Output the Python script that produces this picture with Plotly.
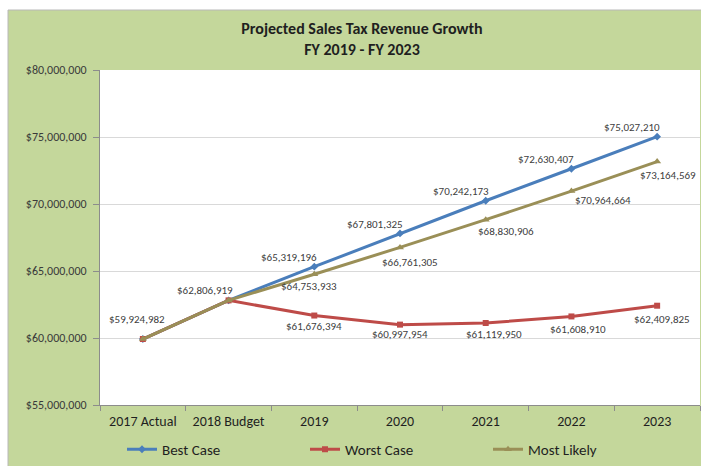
import plotly.graph_objects as go

# Fiscal-year categories and projected sales tax revenue per scenario
categories = ["2017 Actual", "2018 Budget", "2019", "2020", "2021", "2022", "2023"]
best_case = [59924982, 62806919, 65319196, 67801325, 70242173, 72630407, 75027210]
worst_case = [59924982, 62806919, 61676394, 60997954, 61119950, 61608910, 62409825]
most_likely = [59924982, 62806919, 64753933, 66761305, 68830906, 70964664, 73164569]
y_ticks = [55000000, 60000000, 65000000, 70000000, 75000000, 80000000]

FONT = "Carlito, 'Liberation Sans Narrow', Arial, sans-serif"
GREEN = "#C4D79B"
LABEL_COLOR = "#404040"

fig = go.Figure()

series = [
    ("Best Case", best_case, "#4A7EBB", "diamond", 6),
    ("Worst Case", worst_case, "#BE4B48", "square", 6),
    ("Most Likely", most_likely, "#9A8F57", "triangle-up", 7),
]
for name, vals, color, symbol, msize in series:
    fig.add_trace(go.Scatter(
        x=categories, y=vals, name=name, mode="lines+markers",
        line=dict(color=color, width=3),
        marker=dict(symbol=symbol, size=msize, color=color),
        hoverinfo="skip",
    ))

def money(v):
    return f"${v:,}"

# annotations are placed by category index so year names are not read as numbers
annotations = []
# shared starting points: a single label each
annotations.append(dict(x=0, y=best_case[0], text=money(best_case[0]),
                        xshift=-6, yshift=20))
annotations.append(dict(x=1, y=best_case[1], text=money(best_case[1]),
                        xshift=-24, yshift=10))
# best case labels above-left
for i in range(2, 7):
    annotations.append(dict(x=i, y=best_case[i], text=money(best_case[i]),
                            xshift=-25, yshift=9))
# most likely labels below-right
ml_shift = [(0, 0), (0, 0), (-5, -12), (10, -15), (20, -12), (32, -9), (11, -14)]
for i in range(2, 7):
    dx, dy = ml_shift[i]
    annotations.append(dict(x=i, y=most_likely[i], text=money(most_likely[i]),
                            xshift=dx, yshift=dy))
# worst case labels below
wc_shift = [(0, 0), (0, 0), (0, -11), (0, -10), (8, -12), (7, -13), (5, -14)]
for i in range(2, 7):
    dx, dy = wc_shift[i]
    annotations.append(dict(x=i, y=worst_case[i], text=money(worst_case[i]),
                            xshift=dx, yshift=dy))

for a in annotations:
    a.update(xref="x", yref="y", showarrow=False,
             font=dict(family=FONT, size=11, color=LABEL_COLOR))

# plot-area geometry in pixels
L, R, T, B, W, H = 100, 1, 70, 61, 701, 466
pw, ph = W - L - R, H - T - B

def px_x(p):
    return (p - L) / pw

def px_y(p):
    return (H - B - p) / ph

shapes = [
    # green chart frame
    dict(type="rect", xref="paper", yref="paper", layer="below",
         x0=px_x(8), x1=px_x(720), y0=px_y(480), y1=px_y(10),
         fillcolor=GREEN, line=dict(color="#B8B8B8", width=1)),
    # white plot area
    dict(type="rect", xref="paper", yref="paper", layer="below",
         x0=0, x1=1, y0=0, y1=1, fillcolor="white", line=dict(width=0)),
]

fig.update_layout(
    width=W, height=H,
    margin=dict(l=L, r=R, t=T, b=B, autoexpand=False),
    paper_bgcolor="white", plot_bgcolor="white",
    font=dict(family=FONT, color="#262626"),
    title=dict(text="<b>Projected Sales Tax Revenue Growth<br>FY 2019 - FY 2023</b>",
               x=362 / W, xanchor="center", xref="container",
               y=1 - 34 / H, yanchor="top", yref="container",
               font=dict(family=FONT, size=16, color="#1F1F1F")),
    xaxis=dict(type="category", range=[-0.5, 6.5], showgrid=False,
               showline=True, linecolor="#8C8C8C", linewidth=1,
               ticks="outside", tickson="boundaries", ticklen=5, tickcolor="#8C8C8C",
               ticklabelstandoff=3,
               tickfont=dict(family=FONT, size=14, color="#1F1F1F")),
    yaxis=dict(range=[55000000, 80000000], tickvals=y_ticks,
               ticktext=[money(v) for v in y_ticks],
               showgrid=True, gridcolor="#D9D9D9", gridwidth=1,
               showline=True, linecolor="#8C8C8C", linewidth=1,
               ticks="outside", ticklen=6, tickcolor="#8C8C8C",
               ticklabelstandoff=4, zeroline=False,
               tickfont=dict(family=FONT, size=12, color="#3A3A3A")),
    legend=dict(orientation="h", x=px_x(122), y=px_y(433), xanchor="left", yanchor="top",
                bgcolor="rgba(0,0,0,0)", entrywidth=138, entrywidthmode="pixels",
                font=dict(family=FONT, size=15, color="#1F1F1F")),
    annotations=annotations,
    shapes=shapes,
)

fig.write_html("out.html")
